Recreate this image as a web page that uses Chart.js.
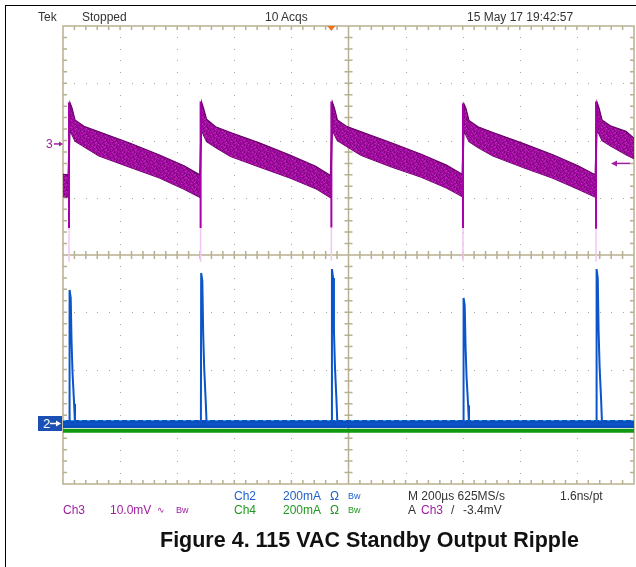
<!DOCTYPE html>
<html><head><meta charset="utf-8">
<script src="https://cdn.jsdelivr.net/npm/chart.js@4.4.0/dist/chart.umd.min.js"></script>
<style>
html,body{margin:0;padding:0;background:#fff;}
#wrap{position:relative;width:636px;height:567px;overflow:hidden;background:#fff;}
#c{position:absolute;left:0;top:0;}
.t{position:absolute;font-family:"Liberation Sans",Arial,sans-serif;font-size:12px;white-space:nowrap;line-height:13px;color:#333;}
.bw{font-size:9px;position:relative;top:-1px;}
.p{color:#a020a0;} .b{color:#1f5fd0;} .g{color:#1f9a1f;}
#title{position:absolute;left:160px;top:529px;font-family:"Liberation Sans",Arial,sans-serif;font-weight:bold;font-size:21.5px;color:#111;white-space:nowrap;line-height:22px;}
#frameTop{position:absolute;left:5px;top:5px;width:631px;height:1px;background:#000;}
#frameLeft{position:absolute;left:5px;top:5px;width:1px;height:562px;background:#000;}
#m2{position:absolute;left:38px;width:24px;height:15px;background:#1a4fb4;color:#fff;font-family:"Liberation Sans",Arial,sans-serif;font-size:13px;line-height:15px;padding-left:5px;box-sizing:border-box;}
#m3{position:absolute;left:46px;font-family:"Liberation Sans",Arial,sans-serif;font-size:12px;line-height:12px;color:#a020a0;}
</style></head>
<body><div id="wrap">
<canvas id="c" width="636" height="567"></canvas>
<div id="frameTop"></div><div id="frameLeft"></div>
<div class="t" style="left:38px;top:11px">Tek</div>
<div class="t" style="left:82px;top:11px">Stopped</div>
<div class="t" style="left:265px;top:11px">10 Acqs</div>
<div class="t" style="left:467px;top:11px">15 May 17 19:42:57</div>

<div class="t b" style="left:234px;top:490px">Ch2</div>
<div class="t b" style="left:283px;top:490px">200mA</div>
<div class="t b" style="left:330px;top:490px">Ω</div>
<div class="t b" style="left:348px;top:490px"><span class="bw">Bw</span></div>
<div class="t" style="left:408px;top:490px">M 200µs 625MS/s</div>
<div class="t" style="left:560px;top:490px">1.6ns/pt</div>

<div class="t p" style="left:63px;top:504px">Ch3</div>
<div class="t p" style="left:110px;top:504px">10.0mV</div>
<div class="t p" style="left:157px;top:504px"><span class="bw">∿</span></div>
<div class="t p" style="left:176px;top:504px"><span class="bw">Bw</span></div>
<div class="t g" style="left:234px;top:504px">Ch4</div>
<div class="t g" style="left:283px;top:504px">200mA</div>
<div class="t g" style="left:330px;top:504px">Ω</div>
<div class="t g" style="left:348px;top:504px"><span class="bw">Bw</span></div>
<div class="t" style="left:408px;top:504px">A</div>
<div class="t p" style="left:421px;top:504px">Ch3</div>
<div class="t" style="left:451px;top:504px">/</div>
<div class="t" style="left:463px;top:504px">-3.4mV</div>

<div id="title">Figure 4. 115 VAC Standby Output Ripple</div>
<div id="m3">3</div>
<div id="m2">2</div>
</div>
<script>
// ---- data (time in µs, Ch3 in mV, Ch2/Ch4 in mA) ----
const ch3Time  = [-1000,-982,-975.5,-968.5,-958,-926.5,-874,-769,-664,-576,-521,
                  -514.5,-507.5,-497,-465.5,-413,-308,-203,-115,-63,
                  -56.5,-49.5,-39,-7.5,45,150,255,343,398,
                  404.5,411.5,422,453.5,506,611,716,804,864,
                  870.5,877.5,888,919.5,972,1000];
const ch3Upper = [-5.3,-5.4,7.2,6.3,4.2,3.1,2.1,0.2,-1.9,-3.8,-5.4,
                  7.3,6.2,4.3,3.0,2.0,0.1,-2.0,-3.9,-5.5,
                  7.3,6.3,4.2,3.1,2.1,0.2,-1.8,-3.7,-5.3,
                  7.0,6.2,4.1,3.0,2.0,0.1,-1.9,-3.8,-5.4,
                  7.3,6.3,4.2,3.1,2.2,1.0];
const ch3Lower = [-9.2,-9.3,2.4,1.6,0.5,-0.5,-2.1,-4.0,-5.9,-7.9,-9.3,
                  2.5,1.5,0.4,-0.6,-2.2,-4.1,-6.0,-7.8,-9.4,
                  2.4,1.6,0.6,-0.4,-2.0,-4.0,-5.8,-7.7,-9.2,
                  2.3,1.5,0.4,-0.6,-2.1,-4.1,-6.0,-7.9,-9.3,
                  2.5,1.7,0.6,-0.4,-1.9,-2.6];
const spikeTimes   = [-979,-518,-60,401,867];
const ch3SpikeTop  = [7.3,7.4,7.4,7.1,7.4];
const ch3SpikeLow  = [-14.7,-14.7,-14.6,-14.7,-14.8];
const ch3SpikeFaint= [-20.6,-20.6,-20.4,-20.5,-20.6];

const ch2Time    = [-1000,-978,-977,-973,-970,-966.5,-961,-958,
                    -517,-516,-512,-509,-505.5,-500,-497,
                    -59,-58,-54,-51,-47.5,-42,-39,
                    402,403,407,410,413.5,419,422,
                    868,869,873,876,879.5,885,888,1000];
const ch2Current = [0,0,468,440,285,175,70,0,
                    0,527,500,318,196,77,0,
                    0,541,510,325,200,80,0,
                    0,440,415,270,165,65,0,
                    0,541,510,325,200,80,0,0];
const ch2NoiseTime = [-1000,1000];
const ch2Noise     = [0,0];
const ch4Time    = [-1000,1000];
const ch4Current = [0,0];
const triggerTime = -60;   // µs
const triggerLevel = -3.4; // mV

// ---- channel scales (per division) and screen offsets (divisions) ----
const ch3Off = 1.94, ch3Scale = 10;   // 10 mV/div
const ch2Off = -2.95, ch2Scale = 200; // 200 mA/div
const ch4Off = -3.07, ch4Scale = 200;

const pts = (xs, ys) => xs.map((x,i)=>({x:x,y:ys[i]}));
const spikePts = (a,b) => { const o=[]; spikeTimes.forEach((t,i)=>{o.push({x:t,y:a[i]},{x:t,y:b[i]},{x:t,y:null});}); return o; };

// texture for the noisy Ch3 band (fixed hand-made tile)
const tile = [
 'AABACADAAB',
 'ACAABAADAA',
 'BAADAACABA',
 'AABAACAADA',
 'DAAABAAACA',
 'AACADAABAA',
 'ABAAACDAAB'];
const pal = {A:'#a40ca4',B:'#8e028e',C:'#b52cb5',D:'#740074'};
const pc = document.createElement('canvas'); pc.width=10; pc.height=7;
const px = pc.getContext('2d');
tile.forEach((row,j)=>[...row].forEach((k,i)=>{px.fillStyle=pal[k];px.fillRect(i,j,1,1);}));
const pattern = px.createPattern(pc,'repeat');

const grat = {
  id:'grat',
  beforeDatasetsDraw(chart){
    const {ctx, chartArea:a} = chart;
    const L=a.left, R=a.right, T=a.top, B=a.bottom;
    const dx=(R-L)/10, dy=(B-T)/8;
    ctx.save();
    ctx.fillStyle='#aaa48a';
    for(let i=1;i<10;i++){ if(i===5) continue; const xx=Math.round(L+i*dx);
      for(let j=1;j<40;j++){ ctx.fillRect(xx,Math.round(T+j*dy/5),1,1);} }
    for(let j=1;j<8;j++){ if(j===4) continue; const yy=Math.round(T+j*dy);
      for(let i=1;i<50;i++){ ctx.fillRect(Math.round(L+i*dx/5),yy,1,1);} }
    ctx.strokeStyle='#b8b090'; ctx.lineWidth=1.5;
    ctx.strokeRect(L,T,R-L,B-T);
    const cx=L+5*dx, cy=T+4*dy;
    ctx.beginPath();
    ctx.moveTo(cx,T); ctx.lineTo(cx,B); ctx.moveTo(L,cy); ctx.lineTo(R,cy);
    for(let i=1;i<50;i++){ const xx=L+i*dx/5;
      ctx.moveTo(xx,T); ctx.lineTo(xx,T+4); ctx.moveTo(xx,B); ctx.lineTo(xx,B-4);
      ctx.moveTo(xx,cy-4); ctx.lineTo(xx,cy+4);}
    for(let j=1;j<40;j++){ const yy=T+j*dy/5;
      ctx.moveTo(L,yy); ctx.lineTo(L+4,yy); ctx.moveTo(R,yy); ctx.lineTo(R-4,yy);
      ctx.moveTo(cx-4,yy); ctx.lineTo(cx+4,yy);}
    ctx.stroke();
    ctx.restore();
  },
  afterDatasetsDraw(chart){
    const {ctx, chartArea:a, scales:{x,y3,y2}} = chart;
    ctx.save();
    const tx=x.getPixelForValue(triggerTime);
    ctx.fillStyle='#f07020';
    ctx.beginPath(); ctx.moveTo(tx-4,a.top); ctx.lineTo(tx+4,a.top); ctx.lineTo(tx,a.top+5); ctx.closePath(); ctx.fill();
    const ty=y3.getPixelForValue(triggerLevel);
    ctx.strokeStyle='#a020a0'; ctx.fillStyle='#a020a0'; ctx.lineWidth=1.5;
    ctx.beginPath(); ctx.moveTo(a.right-4,ty); ctx.lineTo(a.right-20,ty); ctx.stroke();
    ctx.beginPath(); ctx.moveTo(a.right-23,ty); ctx.lineTo(a.right-17,ty-3); ctx.lineTo(a.right-17,ty+3); ctx.closePath(); ctx.fill();
    const gy=y3.getPixelForValue(0);
    ctx.beginPath(); ctx.moveTo(54,gy); ctx.lineTo(60,gy); ctx.stroke();
    ctx.beginPath(); ctx.moveTo(63,gy); ctx.lineTo(59,gy-2.5); ctx.lineTo(59,gy+2.5); ctx.closePath(); ctx.fill();
    ctx.restore();
  },
  afterDraw(chart){
    // white arrow inside Ch2 marker box is drawn in HTML overlay canvas below
  }
};

const chart = new Chart(document.getElementById('c'), {
  type:'line',
  data:{datasets:[
    {data:spikePts(ch3SpikeLow,ch3SpikeFaint), yAxisID:'y3', borderColor:'#f2c6f2', borderWidth:1.5, pointRadius:0, spanGaps:false, order:9},
    {data:pts(ch4Time,ch4Current), yAxisID:'y4', borderColor:'#119a11', borderWidth:4, pointRadius:0, order:8},
    {data:pts(ch2NoiseTime,ch2Noise), yAxisID:'y2', borderColor:'#0b4fbf', borderWidth:8, pointRadius:0, order:7},
    {data:pts(ch2NoiseTime,ch2Noise.map(v=>v+12)), yAxisID:'y2', borderColor:'#25b8e0', borderWidth:1, borderDash:[3,5], pointRadius:0, order:6},
    {data:pts(ch2Time,ch2Current), yAxisID:'y2', borderColor:'#0b55c8', borderWidth:2, pointRadius:0, tension:0, order:5},
    {data:pts(ch3Time,ch3Upper), yAxisID:'y3', borderColor:'#6a006a', borderWidth:1.2, pointRadius:0, fill:'+1', backgroundColor:pattern, order:3},
    {data:pts(ch3Time,ch3Lower), yAxisID:'y3', borderColor:'#6a006a', borderWidth:1.2, pointRadius:0, fill:false, order:4},
    {data:spikePts(ch3SpikeLow,ch3SpikeTop), yAxisID:'y3', borderColor:'#a800a8', borderWidth:2, pointRadius:0, spanGaps:false, order:2}
  ]},
  options:{
    responsive:false, animation:false, devicePixelRatio:1,
    layout:{padding:{left:63,top:26,right:2,bottom:83}},
    plugins:{legend:{display:false}, tooltip:{enabled:false}},
    elements:{line:{borderCapStyle:'butt'}},
    scales:{
      x:{type:'linear', min:-1000, max:1000, display:false},
      y3:{type:'linear', min:(-4-ch3Off)*ch3Scale, max:(4-ch3Off)*ch3Scale, display:false},
      y2:{type:'linear', min:(-4-ch2Off)*ch2Scale, max:(4-ch2Off)*ch2Scale, display:false},
      y4:{type:'linear', min:(-4-ch4Off)*ch4Scale, max:(4-ch4Off)*ch4Scale, display:false}
    }
  },
  plugins:[grat]
});
const y3p = chart.scales.y3.getPixelForValue(0);
document.getElementById('m3').style.top = (y3p-6)+'px';
const y2p = chart.scales.y2.getPixelForValue(0);
const m2 = document.getElementById('m2');
m2.style.top = (y2p-7.5)+'px';
const ac = document.createElement('canvas'); ac.width=12; ac.height=7;
ac.style.cssText='position:absolute;left:11px;top:4px;';
const a2 = ac.getContext('2d'); a2.strokeStyle='#fff'; a2.fillStyle='#fff'; a2.lineWidth=1.5;
a2.beginPath(); a2.moveTo(1,3.5); a2.lineTo(8,3.5); a2.stroke();
a2.beginPath(); a2.moveTo(12,3.5); a2.lineTo(7,0.5); a2.lineTo(7,6.5); a2.closePath(); a2.fill();
m2.appendChild(ac);
</script>
</body></html>
